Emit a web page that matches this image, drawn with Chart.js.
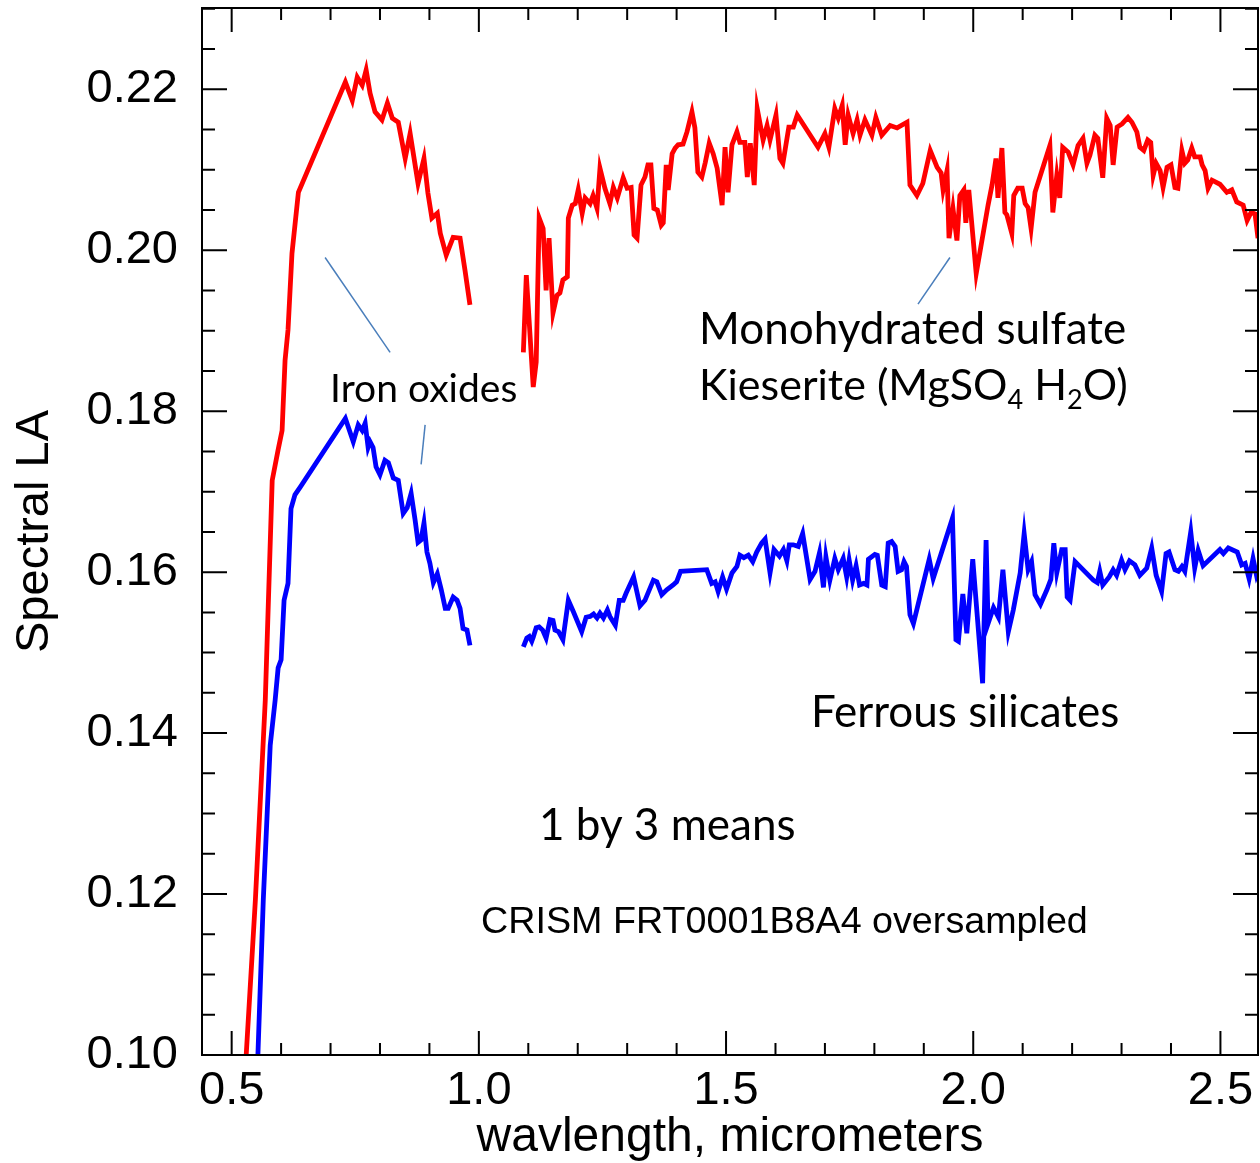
<!DOCTYPE html>
<html>
<head>
<meta charset="utf-8">
<script src="https://cdn.jsdelivr.net/npm/chart.js"></script>
<style>
  html, body { margin: 0; padding: 0; background: #fff; }
  #wrap { width: 1260px; height: 1163px; }
</style>
</head>
<body>
<div id="wrap"><canvas id="spectra" width="1260" height="1163"></canvas></div>
<script>
// CRISM spectra, 1 by 3 means: red = sulfate-rich spot, blue = ferrous silicate spot
// VNIR and IR detector segments are kept apart so the gap near 1.0 um stays open.

const redVisWl = [0.527, 0.548, 0.568, 0.582, 0.594, 0.602, 0.608, 0.614, 0.622, 0.635,
  0.730, 0.744, 0.754, 0.764, 0.772, 0.780, 0.790, 0.804, 0.815, 0.825,
  0.837, 0.851, 0.861, 0.877, 0.889, 0.897, 0.905, 0.916, 0.922, 0.934,
  0.948, 0.962, 0.972, 0.982];
const redVisLA = [0.0975, 0.1193, 0.1441, 0.1714, 0.1752, 0.1776, 0.1863, 0.1901, 0.1996, 0.2072,
  0.2209, 0.2186, 0.2215, 0.2205, 0.2224, 0.2195, 0.2172, 0.2162, 0.2183, 0.2164,
  0.2159, 0.2114, 0.2145, 0.2083, 0.2114, 0.2071, 0.2040, 0.2046, 0.2021, 0.1994,
  0.2016, 0.2015, 0.1975, 0.1932];

const redIrWl = [1.090, 1.096, 1.110, 1.116, 1.122, 1.130, 1.136, 1.142, 1.150, 1.158,
  1.164, 1.170, 1.179, 1.181, 1.189, 1.195, 1.201, 1.209, 1.215, 1.225,
  1.231, 1.239, 1.245, 1.255, 1.265, 1.272, 1.280, 1.292, 1.300, 1.308,
  1.314, 1.320, 1.328, 1.336, 1.342, 1.348, 1.354, 1.361, 1.369, 1.373,
  1.379, 1.383, 1.391, 1.397, 1.403, 1.413, 1.421, 1.431, 1.437, 1.443,
  1.451, 1.458, 1.466, 1.474, 1.482, 1.492, 1.498, 1.504, 1.512, 1.522,
  1.528, 1.538, 1.543, 1.549, 1.557, 1.563, 1.575, 1.583, 1.589, 1.601,
  1.609, 1.615, 1.627, 1.636, 1.644, 1.686, 1.700, 1.708, 1.720, 1.727,
  1.735, 1.741, 1.747, 1.757, 1.765, 1.771, 1.781, 1.795, 1.803, 1.815,
  1.832, 1.846, 1.866, 1.872, 1.886, 1.898, 1.913, 1.927, 1.935, 1.939,
  1.947, 1.951, 1.959, 1.967, 1.973, 1.981, 1.985, 1.991, 2.006, 2.030,
  2.038, 2.046, 2.050, 2.058, 2.064, 2.068, 2.078, 2.082, 2.090, 2.099,
  2.105, 2.111, 2.117, 2.125, 2.155, 2.161, 2.169, 2.175, 2.181, 2.192,
  2.202, 2.212, 2.222, 2.230, 2.236, 2.246, 2.252, 2.262, 2.270, 2.277,
  2.283, 2.291, 2.301, 2.313, 2.321, 2.331, 2.337, 2.345, 2.353, 2.359,
  2.364, 2.370, 2.378, 2.384, 2.392, 2.400, 2.408, 2.414, 2.422, 2.428,
  2.434, 2.442, 2.448, 2.459, 2.463, 2.469, 2.475, 2.483, 2.499, 2.513,
  2.523, 2.533, 2.546, 2.554, 2.562, 2.570, 2.576];
const redIrLA = [0.1873, 0.1969, 0.1830, 0.1861, 0.2040, 0.2027, 0.1950, 0.2015, 0.1922, 0.1944,
  0.1947, 0.1963, 0.1967, 0.2040, 0.2056, 0.2058, 0.2075, 0.2046, 0.2065, 0.2058,
  0.2068, 0.2052, 0.2102, 0.2077, 0.2058, 0.2078, 0.2065, 0.2090, 0.2077, 0.2078,
  0.2019, 0.2015, 0.2081, 0.2091, 0.2106, 0.2106, 0.2052, 0.2050, 0.2031, 0.2034,
  0.2106, 0.2075, 0.2120, 0.2127, 0.2131, 0.2132, 0.2147, 0.2172, 0.2152, 0.2097,
  0.2091, 0.2109, 0.2133, 0.2120, 0.2102, 0.2056, 0.2128, 0.2072, 0.2131, 0.2147,
  0.2134, 0.2134, 0.2091, 0.2133, 0.2081, 0.2176, 0.2137, 0.2155, 0.2137, 0.2168,
  0.2114, 0.2108, 0.2153, 0.2153, 0.2168, 0.2128, 0.2145, 0.2128, 0.2176, 0.2164,
  0.2180, 0.2131, 0.2168, 0.2145, 0.2162, 0.2143, 0.2162, 0.2143, 0.2165, 0.2143,
  0.2155, 0.2152, 0.2159, 0.2081, 0.2068, 0.2083, 0.2124, 0.2103, 0.2096, 0.2075,
  0.2099, 0.2015, 0.2052, 0.2012, 0.2068, 0.2075, 0.2034, 0.2075, 0.1971, 0.2056,
  0.2081, 0.2114, 0.2065, 0.2127, 0.2047, 0.2044, 0.2021, 0.2068, 0.2077, 0.2077,
  0.2058, 0.2053, 0.2027, 0.2072, 0.2130, 0.2047, 0.2093, 0.2065, 0.2128, 0.2122,
  0.2106, 0.2130, 0.2139, 0.2108, 0.2118, 0.2143, 0.2139, 0.2090, 0.2164, 0.2155,
  0.2106, 0.2153, 0.2157, 0.2165, 0.2159, 0.2147, 0.2128, 0.2124, 0.2137, 0.2134,
  0.2093, 0.2108, 0.2099, 0.2078, 0.2103, 0.2106, 0.2078, 0.2077, 0.2124, 0.2108,
  0.2112, 0.2127, 0.2116, 0.2116, 0.2106, 0.2099, 0.2077, 0.2087, 0.2082, 0.2072,
  0.2075, 0.2060, 0.2056, 0.2037, 0.2047, 0.2045, 0.2015];

const blueVisWl = [0.552, 0.564, 0.578, 0.588, 0.594, 0.600, 0.606, 0.614, 0.620, 0.628,
  0.639, 0.730, 0.746, 0.756, 0.764, 0.770, 0.776, 0.780, 0.786, 0.792,
  0.800, 0.810, 0.817, 0.827, 0.837, 0.847, 0.855, 0.863, 0.871, 0.877,
  0.883, 0.889, 0.895, 0.901, 0.908, 0.916, 0.924, 0.932, 0.938, 0.948,
  0.956, 0.962, 0.968, 0.976, 0.982];
const blueVisLA = [0.0981, 0.1193, 0.1385, 0.1441, 0.1481, 0.1491, 0.1565, 0.1586, 0.1679, 0.1696,
  0.1706, 0.1791, 0.1762, 0.1783, 0.1776, 0.1785, 0.1755, 0.1762, 0.1755, 0.1731,
  0.1721, 0.1739, 0.1736, 0.1717, 0.1714, 0.1673, 0.1680, 0.1698, 0.1665, 0.1637,
  0.1640, 0.1661, 0.1625, 0.1611, 0.1587, 0.1598, 0.1578, 0.1555, 0.1555, 0.1569,
  0.1565, 0.1555, 0.1530, 0.1528, 0.1509];

const blueIrWl = [1.090, 1.097, 1.102, 1.107, 1.110, 1.116, 1.122, 1.129, 1.136, 1.144,
  1.150, 1.154, 1.161, 1.170, 1.181, 1.191, 1.208, 1.217, 1.225, 1.232,
  1.239, 1.245, 1.252, 1.260, 1.265, 1.276, 1.284, 1.292, 1.298, 1.313,
  1.326, 1.336, 1.353, 1.360, 1.370, 1.380, 1.393, 1.400, 1.408, 1.461,
  1.471, 1.478, 1.484, 1.493, 1.501, 1.512, 1.522, 1.528, 1.536, 1.545,
  1.554, 1.562, 1.572, 1.579, 1.589, 1.597, 1.608, 1.616, 1.623, 1.628,
  1.636, 1.646, 1.655, 1.670, 1.680, 1.689, 1.697, 1.702, 1.710, 1.720,
  1.727, 1.737, 1.744, 1.749, 1.756, 1.763, 1.770, 1.778, 1.785, 1.788,
  1.801, 1.806, 1.815, 1.822, 1.828, 1.835, 1.842, 1.848, 1.855, 1.860,
  1.865, 1.872, 1.879, 1.911, 1.919, 1.958, 1.965, 1.970, 1.979, 1.987,
  1.999, 2.019, 2.026, 2.030, 2.041, 2.051, 2.060, 2.071, 2.081, 2.095,
  2.103, 2.111, 2.118, 2.125, 2.136, 2.149, 2.157, 2.163, 2.169, 2.179,
  2.186, 2.190, 2.196, 2.206, 2.243, 2.251, 2.256, 2.262, 2.275, 2.283,
  2.290, 2.300, 2.307, 2.316, 2.327, 2.337, 2.351, 2.361, 2.370, 2.381,
  2.390, 2.396, 2.408, 2.415, 2.422, 2.428, 2.440, 2.448, 2.455, 2.465,
  2.499, 2.506, 2.516, 2.534, 2.543, 2.550, 2.558, 2.566, 2.573, 2.580];
const blueIrLA = [0.1507, 0.1518, 0.1520, 0.1514, 0.1519, 0.1531, 0.1532, 0.1528, 0.1518, 0.1541,
  0.1540, 0.1528, 0.1526, 0.1516, 0.1565, 0.1551, 0.1526, 0.1544, 0.1545, 0.1548,
  0.1543, 0.1549, 0.1543, 0.1553, 0.1545, 0.1534, 0.1565, 0.1565, 0.1574, 0.1594,
  0.1558, 0.1565, 0.1590, 0.1588, 0.1572, 0.1578, 0.1584, 0.1588, 0.1601, 0.1603,
  0.1586, 0.1588, 0.1576, 0.1594, 0.1579, 0.1599, 0.1607, 0.1621, 0.1618, 0.1621,
  0.1613, 0.1625, 0.1636, 0.1641, 0.1599, 0.1628, 0.1620, 0.1628, 0.1614, 0.1634,
  0.1634, 0.1632, 0.1648, 0.1591, 0.1601, 0.1624, 0.1581, 0.1619, 0.1590, 0.1617,
  0.1603, 0.1617, 0.1594, 0.1615, 0.1590, 0.1608, 0.1584, 0.1586, 0.1584, 0.1616,
  0.1622, 0.1621, 0.1584, 0.1582, 0.1636, 0.1638, 0.1632, 0.1601, 0.1603, 0.1613,
  0.1607, 0.1547, 0.1536, 0.1616, 0.1592, 0.1667, 0.1516, 0.1514, 0.1573, 0.1524,
  0.1616, 0.1462, 0.1640, 0.1536, 0.1556, 0.1544, 0.1603, 0.1526, 0.1553, 0.1599,
  0.1648, 0.1603, 0.1613, 0.1572, 0.1560, 0.1578, 0.1591, 0.1636, 0.1599, 0.1628,
  0.1628, 0.1569, 0.1565, 0.1613, 0.1590, 0.1587, 0.1601, 0.1584, 0.1594, 0.1603,
  0.1596, 0.1615, 0.1603, 0.1614, 0.1609, 0.1596, 0.1605, 0.1630, 0.1596, 0.1576,
  0.1623, 0.1625, 0.1603, 0.1601, 0.1607, 0.1601, 0.1650, 0.1605, 0.1627, 0.1608,
  0.1628, 0.1623, 0.1630, 0.1625, 0.1609, 0.1611, 0.1592, 0.1617, 0.1596, 0.1607];

// axis range in micrometers / LA
const xMin = 0.44, xMax = 2.576;
const yMin = 0.10, yMax = 0.2301;

const AXIS_FONT = 'Liberation Sans, Arial, Helvetica, sans-serif';
const NOTE_FONT = 'Lato, Carlito, Calibri, sans-serif';

function toPoints(wl, la) {
  return wl.map((w, i) => ({ x: w, y: la[i] }));
}

function spectrum(wl, la, color) {
  return {
    data: toPoints(wl, la),
    borderColor: color,
    borderWidth: 4.8,
    pointRadius: 0,
    tension: 0,
    fill: false
  };
}

// keep the plot box exactly where it is; no extra room for edge labels
function noEdgePadding(scale) {
  scale.paddingTop = 0;
  scale.paddingBottom = 0;
  scale.paddingLeft = 0;
  scale.paddingRight = 0;
}

// Box frame with inward ticks on all four sides (IDL style)
const frameTicks = {
  id: 'frameTicks',
  afterDatasetsDraw(chart) {
    const { ctx, chartArea: a, scales: { x, y } } = chart;
    ctx.save();
    ctx.strokeStyle = '#000';
    ctx.lineWidth = 2;
    ctx.strokeRect(a.left, a.top, a.right - a.left, a.bottom - a.top);
    ctx.beginPath();
    for (let i = 5; i <= 25; i++) {
      const px = x.getPixelForValue(i / 10);
      const len = i % 5 === 0 ? 24 : 12;
      ctx.moveTo(px, a.bottom); ctx.lineTo(px, a.bottom - len);
      ctx.moveTo(px, a.top); ctx.lineTo(px, a.top + len);
    }
    for (let i = 20; i <= 46; i++) {
      const py = y.getPixelForValue(i * 0.005);
      const len = i % 4 === 0 ? 25 : 13;
      ctx.moveTo(a.left, py); ctx.lineTo(a.left + len, py);
      ctx.moveTo(a.right, py); ctx.lineTo(a.right - len, py);
    }
    ctx.stroke();
    ctx.restore();
  }
};

// Feature labels and their leader lines, placed in data coordinates
const notes = {
  id: 'notes',
  afterDraw(chart) {
    const { ctx, scales: { x, y } } = chart;
    const X = v => x.getPixelForValue(v);
    const Y = v => y.getPixelForValue(v);
    ctx.save();

    ctx.strokeStyle = '#4a7ebb';
    ctx.lineWidth = 1.5;
    const leaders = [
      [0.689, 0.1991, 0.8205, 0.1873],
      [0.8913, 0.1783, 0.8832, 0.1734],
      [1.9529, 0.1991, 1.8882, 0.1933]
    ];
    leaders.forEach(([x0, y0, x1, y1]) => {
      ctx.beginPath();
      ctx.moveTo(X(x0), Y(y0));
      ctx.lineTo(X(x1), Y(y1));
      ctx.stroke();
    });

    ctx.fillStyle = '#000';
    ctx.textBaseline = 'alphabetic';
    ctx.textAlign = 'left';
    ctx.font = '39px ' + NOTE_FONT;
    ctx.fillText('Iron oxides', X(0.699), Y(0.1811));
    ctx.font = '44px ' + NOTE_FONT;
    ctx.fillText('Monohydrated sulfate', X(1.4454), Y(0.1883));
    ctx.fillText('Ferrous silicates', X(1.6719), Y(0.1407));
    ctx.fillText('1 by 3 means', X(1.1218), Y(0.1267));

    // Kieserite (MgSO4 H2O) with subscripts
    const parts = [
      ['Kieserite (MgSO', false], ['4', true], [' H', false], ['2', true], ['O)', false]
    ];
    let cx = X(1.4454);
    const base = Y(0.1814);
    parts.forEach(([t, sub]) => {
      ctx.font = (sub ? '27px ' : '43px ') + NOTE_FONT;
      ctx.fillText(t, cx, sub ? base + 9 : base);
      cx += ctx.measureText(t).width;
    });

    ctx.font = '37.7px ' + AXIS_FONT;
    ctx.fillText('CRISM FRT0001B8A4 oversampled', X(1.0045), Y(0.1152));
    ctx.restore();
  }
};

new Chart(document.getElementById('spectra'), {
  type: 'line',
  data: {
    datasets: [
      spectrum(redVisWl, redVisLA, '#ff0000'),
      spectrum(redIrWl, redIrLA, '#ff0000'),
      spectrum(blueVisWl, blueVisLA, '#0000ff'),
      spectrum(blueIrWl, blueIrLA, '#0000ff')
    ]
  },
  options: {
    responsive: false,
    animation: false,
    layout: { padding: { top: 8, right: 2, left: 0, bottom: 0 } },
    plugins: { legend: { display: false }, tooltip: { enabled: false } },
    scales: {
      x: {
        type: 'linear',
        min: xMin,
        max: xMax,
        grid: { display: false, drawTicks: false },
        border: { display: false },
        afterFit(scale) {
          scale.height = 108;
          noEdgePadding(scale);
        },
        ticks: {
          stepSize: 0.5,
          includeBounds: false,
          autoSkip: false,
          maxRotation: 0,
          padding: 8,
          color: '#000',
          font: { family: AXIS_FONT, size: 47 },
          callback: v => v.toFixed(1)
        },
        title: {
          display: true,
          text: 'wavlength, micrometers',
          color: '#000',
          font: { family: AXIS_FONT, size: 48, lineHeight: 1.05 },
          padding: { top: 0, bottom: 0 }
        }
      },
      y: {
        min: yMin,
        max: yMax,
        grid: { display: false, drawTicks: false },
        border: { display: false },
        afterFit(scale) {
          scale.width = 202;
          noEdgePadding(scale);
        },
        ticks: {
          stepSize: 0.02,
          includeBounds: false,
          autoSkip: false,
          padding: 24,
          color: '#000',
          font: { family: AXIS_FONT, size: 47 },
          callback: v => v.toFixed(2)
        },
        title: {
          display: true,
          text: 'Spectral LA',
          color: '#000',
          font: { family: AXIS_FONT, size: 47 },
          padding: { top: 7, bottom: 7 }
        }
      }
    }
  },
  plugins: [frameTicks, notes]
});
</script>
</body>
</html>
